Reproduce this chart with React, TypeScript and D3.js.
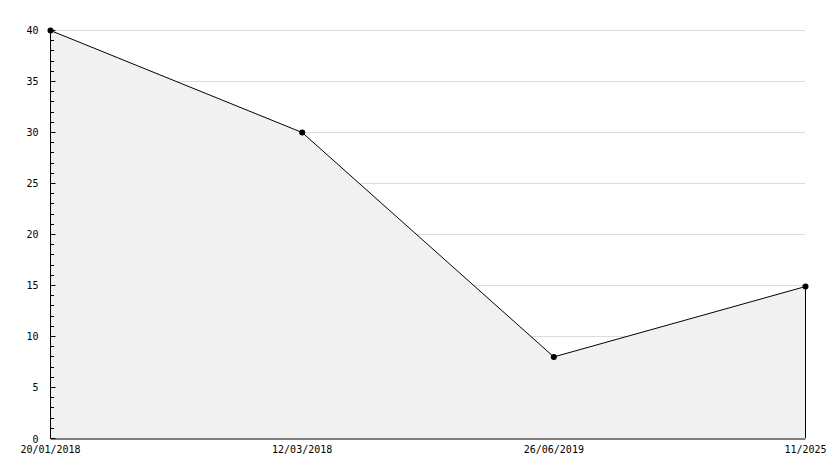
import { useEffect, useRef } from "react";
import * as d3 from "d3";

const dates = ["20/01/2018", "12/03/2018", "26/06/2019", "11/2025"];
const values = [40, 30, 8, 14.9];
const yMajorTicks = [0, 5, 10, 15, 20, 25, 30, 35, 40];

export default function App() {
  const svgRef = useRef<SVGSVGElement>(null);

  useEffect(() => {
    if (!svgRef.current) return;
    d3.select(svgRef.current).selectAll("*").remove();

    const width = 834;
    const height = 468;
    const margin = { top: 30, right: 29, bottom: 30, left: 50 };

    const svg = d3
      .select(svgRef.current)
      .attr("width", width)
      .attr("height", height);

    const x = d3
      .scalePoint<string>()
      .domain(dates)
      .range([margin.left, width - margin.right]);

    const y = d3
      .scaleLinear()
      .domain([0, 40])
      .range([height - margin.bottom, margin.top]);

    const font = "'DejaVu Sans Mono', monospace";

    // Grid lines
    svg
      .append("g")
      .selectAll("line")
      .data(yMajorTicks.filter((d) => d > 0))
      .enter()
      .append("line")
      .attr("x1", margin.left)
      .attr("x2", width - margin.right)
      .attr("y1", (d) => y(d) + 0.5)
      .attr("y2", (d) => y(d) + 0.5)
      .attr("stroke", "#dcdcdc")
      .attr("stroke-width", 1);

    const data = dates.map((d, i) => ({ date: d, value: values[i] }));

    // Area fill
    const area = d3
      .area<{ date: string; value: number }>()
      .x((d) => x(d.date)! + 0.5)
      .y0(y(0) + 0.5)
      .y1((d) => y(d.value) + 0.5);

    svg
      .append("path")
      .datum(data)
      .attr("d", area)
      .attr("fill", "#f1f1f1")
      .attr("stroke", "none");

    // Line
    const line = d3
      .line<{ date: string; value: number }>()
      .x((d) => x(d.date)! + 0.5)
      .y((d) => y(d.value) + 0.5);

    svg
      .append("path")
      .datum(data)
      .attr("d", line)
      .attr("fill", "none")
      .attr("stroke", "#000")
      .attr("stroke-width", 1);

    // Right edge closing line
    const last = data[data.length - 1];
    svg
      .append("line")
      .attr("x1", x(last.date)! + 0.5)
      .attr("x2", x(last.date)! + 0.5)
      .attr("y1", y(last.value))
      .attr("y2", y(0))
      .attr("stroke", "#000");

    // Y axis
    const yAxis = svg
      .append("g")
      .attr("transform", `translate(${margin.left + 0.5},0)`)
      .call(
        d3
          .axisLeft(y)
          .tickValues(yMajorTicks)
          .tickSize(-5)
          .tickPadding(12)
          .tickFormat(d3.format("d"))
      );
    yAxis.select(".domain").attr("stroke", "#000").attr("d", `M0,${y(40)}V${y(0) + 0.5}`);
    yAxis.selectAll("text").attr("font-family", font).attr("font-size", 10).attr("fill", "#000");
    yAxis
      .selectAll<SVGTextElement, number>("text")
      .filter((d) => d === 0)
      .attr("dy", "0.45em");

    // Minor ticks
    svg
      .append("g")
      .selectAll("line")
      .data(d3.range(0, 41).filter((d) => d % 5 !== 0))
      .enter()
      .append("line")
      .attr("x1", margin.left)
      .attr("x2", margin.left + 4)
      .attr("y1", (d) => Math.round(y(d)) + 0.5)
      .attr("y2", (d) => Math.round(y(d)) + 0.5)
      .attr("stroke", "#000");

    // X axis
    const xAxis = svg
      .append("g")
      .attr("transform", `translate(0,${y(0) + 0.5})`)
      .call(d3.axisBottom(x).tickSize(0).tickPadding(7));
    xAxis.select(".domain").attr("stroke", "#000");
    xAxis.selectAll("text").attr("font-family", font).attr("font-size", 10).attr("fill", "#000");

    // Markers
    svg
      .append("g")
      .selectAll("circle")
      .data(data)
      .enter()
      .append("circle")
      .attr("cx", (d) => x(d.date)! + 0.5)
      .attr("cy", (d) => y(d.value) + 0.5)
      .attr("r", 3)
      .attr("fill", "#000");
  }, []);

  return (
    <div style={{ margin: -8 }}>
      <svg ref={svgRef}></svg>
    </div>
  );
}
